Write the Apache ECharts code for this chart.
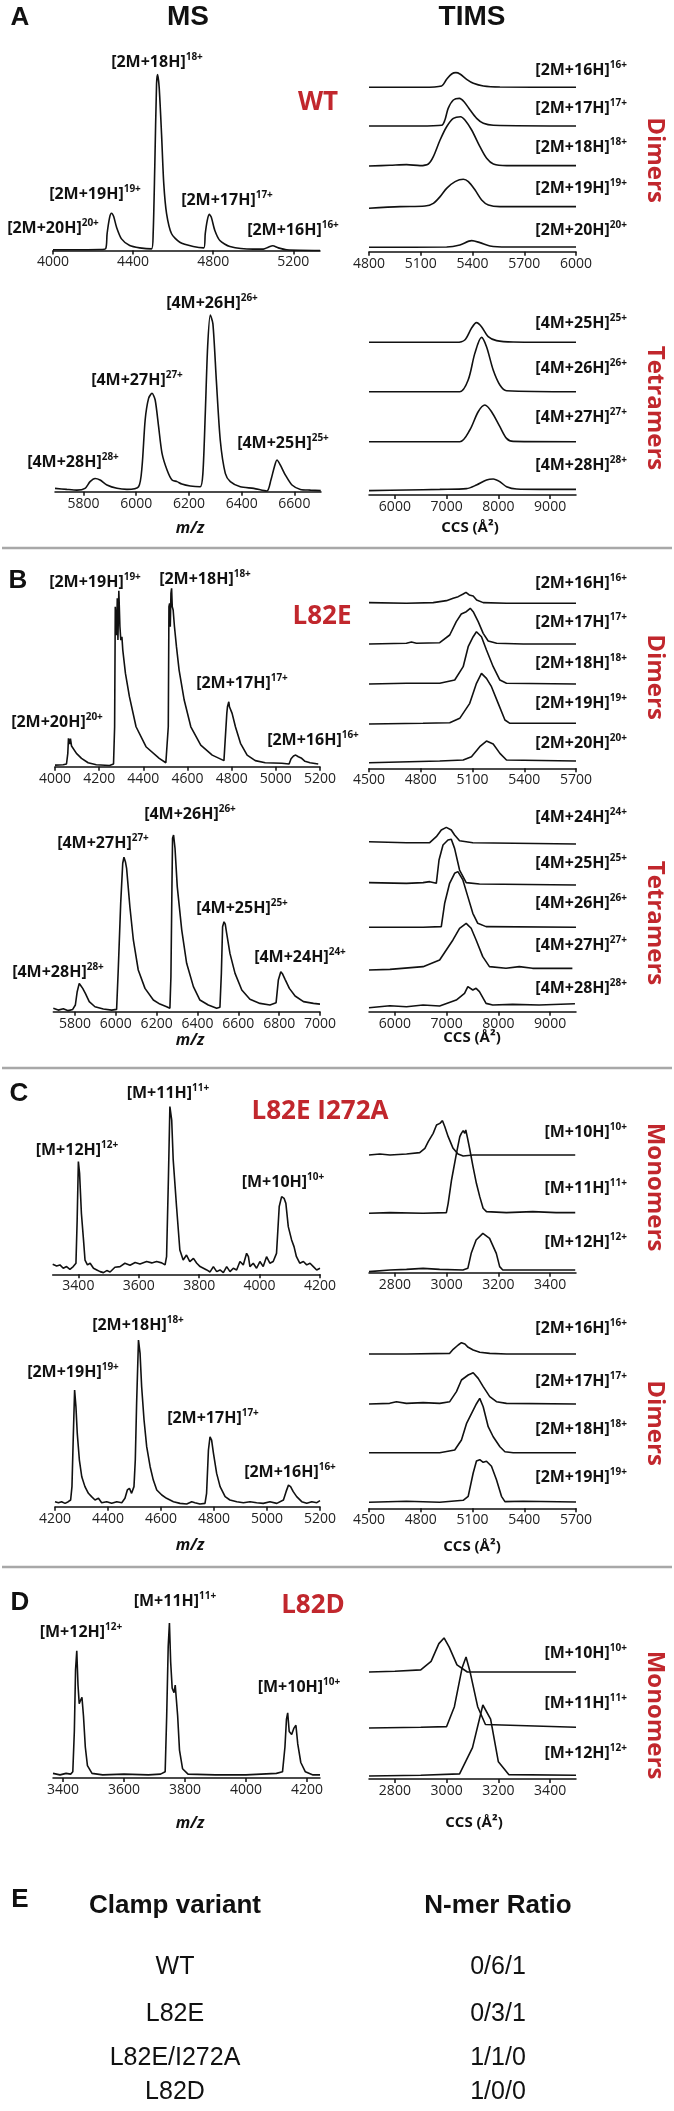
<!DOCTYPE html>
<html>
<head>
<meta charset="utf-8">
<script src="https://cdn.jsdelivr.net/npm/echarts@6/dist/echarts.min.js"></script>
<style>
html, body { margin: 0; padding: 0; background: #fff; }
#chart { width: 674px; height: 2111px; }
</style>
</head>
<body>
<div id="chart"></div>
<script>
// ---------- data: MS spectra [m/z, relative intensity] ----------
const msWtDimers = [[4000,0.4],[4233,0.6],[4263,1.1],[4270,9.5],[4283,19],[4292,21.2],[4303,19.3],[4317,13.3],[4342,6.6],[4383,2.8],[4433,1.5],[4492,0.9],[4500,9.5],[4508,47],[4517,94.7],[4522,100],[4530,92.8],[4542,66],[4553,38],[4567,21],[4592,9.5],[4633,4.7],[4700,2.3],[4753,1.5],[4760,9.5],[4770,17],[4780,20.5],[4790,19],[4808,11.4],[4833,5.7],[4883,2.3],[5000,0.8],[5050,0.8],[5075,1.9],[5097,2.7],[5125,1.5],[5167,0.4],[5333,0]];
const msWtTetramers = [[5692,1.9],[5737,1.3],[5775,0.9],[5806,1.9],[5825,5.7],[5844,7.5],[5863,6.6],[5889,3.8],[5927,1.9],[5965,1.3],[6009,2.8],[6022,14],[6034,40.6],[6047,52.8],[6060,55.7],[6072,51.9],[6085,36.8],[6098,21.7],[6117,12.3],[6136,6.6],[6155,5.7],[6173,4.3],[6205,3.2],[6243,2.8],[6253,10.4],[6262,44],[6271,82],[6281,100],[6291,95],[6304,63],[6319,29],[6338,10.4],[6357,5.7],[6395,2.8],[6446,1.9],[6496,0.4],[6511,6.6],[6524,14],[6534,17.9],[6547,15],[6566,9.4],[6591,3.8],[6623,1.3],[6661,0.9],[6700,0.6]];
const msL82eDimers = [[4000,0.9],[4037,1.1],[4052,1.5],[4058,7.5],[4061,15.9],[4064,16.8],[4067,12.7],[4070,15.7],[4075,11.6],[4082,10.8],[4097,7.5],[4120,4.7],[4150,2.2],[4187,1.1],[4247,0.7],[4265,1.5],[4270,22.4],[4273,89.7],[4276,90.7],[4279,73.8],[4282,94.4],[4285,71],[4289,98.7],[4294,78.5],[4298,71],[4303,72.9],[4307,65.4],[4319,52.3],[4337,39.3],[4367,22.4],[4412,11.2],[4472,4.7],[4502,2.2],[4508,1.9],[4513,22.4],[4516,89.7],[4519,91.6],[4522,78.5],[4525,97.2],[4528,100],[4531,89.7],[4535,87.9],[4541,78.5],[4550,67.3],[4562,54.2],[4585,37.4],[4615,22.4],[4660,12.1],[4712,6.5],[4765,3.4],[4774,2.8],[4778,29.9],[4781,33.6],[4784,34.6],[4787,36.4],[4790,33.6],[4795,34.6],[4802,29.9],[4817,22.4],[4840,13.1],[4870,6.5],[4907,3.4],[4952,2.2],[5027,1.9],[5060,1.5],[5069,4.5],[5080,6],[5090,6.5],[5102,5.6],[5117,4.7],[5132,3],[5155,2.2],[5192,1.5]];
const msL82eTetramers = [[5694,1.9],[5718,0.9],[5743,1.7],[5767,0.6],[5789,1.3],[5802,3.8],[5811,11.3],[5821,16],[5829,14.7],[5838,13.2],[5851,10.4],[5870,5.7],[5898,2.8],[5939,1.5],[5980,0.9],[6004,1.3],[6012,23.6],[6024,61.3],[6034,84],[6040,87.4],[6047,84.9],[6053,81.1],[6069,59.4],[6086,40.6],[6110,23.6],[6143,13.2],[6184,6.6],[6216,4.3],[6249,2.8],[6265,1.9],[6270,19.8],[6275,70.8],[6278,98.1],[6283,100],[6290,92.5],[6301,70.8],[6323,46.2],[6347,27.4],[6380,14.2],[6412,6.6],[6453,3.8],[6494,1.9],[6510,2.5],[6517,21.7],[6523,48.1],[6530,50.9],[6536,49.6],[6543,44.3],[6559,33],[6584,21.7],[6617,12.3],[6657,7],[6706,4.7],[6755,3.8],[6785,5.1],[6796,17.9],[6808,22.6],[6817,21.3],[6829,18.3],[6850,13.2],[6878,8.9],[6919,5.7],[6968,4.7],[7000,4.3]];
const msDoubleMonomers = [[3315,6],[3328,5],[3339,5.6],[3350,3.6],[3361,4.6],[3372,3],[3383,4.6],[3392,6.6],[3396,32.4],[3400,67.2],[3404,60.2],[3410,36.4],[3417,20.5],[3422,8.5],[3430,5.6],[3439,6.6],[3450,3.6],[3461,2.6],[3472,1.6],[3483,1],[3494,2.2],[3505,1.4],[3521,4.2],[3538,4.6],[3554,6.6],[3571,5.4],[3588,7],[3604,6.2],[3626,7.6],[3643,6.8],[3659,7.6],[3676,6.8],[3687,5.6],[3692,10.5],[3698,56.3],[3703,100],[3709,92],[3714,68.2],[3725,40.4],[3736,14.5],[3747,8.5],[3758,11.5],[3769,7.6],[3781,9.5],[3792,6.6],[3803,4.6],[3814,3.6],[3825,2.6],[3836,1.4],[3847,4.6],[3858,1.6],[3869,2.6],[3880,1],[3891,4.6],[3902,1.6],[3913,3.6],[3924,2.6],[3935,7.6],[3946,5.6],[3957,12.5],[3963,10.5],[3968,4.6],[3979,6.6],[3990,3.6],[4001,7.6],[4012,4.6],[4023,10.5],[4034,6.6],[4045,7.6],[4056,12.5],[4065,40.4],[4073,46.3],[4081,45.3],[4087,42.3],[4095,28.4],[4106,20.5],[4114,16.5],[4122,10.5],[4133,6.6],[4145,7.6],[4156,5.6],[4167,6.6],[4178,4.6],[4189,2.6],[4200,3.6]];
const msDoubleDimers = [[4200,3],[4213,2.4],[4225,3],[4238,2],[4250,3],[4259,4],[4264,12],[4269,41.8],[4274,69.7],[4279,59.8],[4284,43.8],[4292,27.9],[4301,17.9],[4313,12],[4326,8],[4338,6],[4351,4],[4364,5],[4376,2.4],[4395,3],[4414,2],[4433,3],[4452,2.4],[4464,5],[4473,10],[4481,11],[4489,8],[4498,12],[4503,27.9],[4508,61.8],[4515,99.6],[4521,91.6],[4527,71.7],[4536,51.8],[4546,35.9],[4559,23.9],[4571,15.9],[4584,10],[4603,7],[4621,5],[4647,3],[4672,2],[4697,1.6],[4716,3],[4728,2.4],[4747,1.6],[4766,2],[4772,8],[4779,33.9],[4785,41.8],[4791,39.8],[4798,31.9],[4810,19.9],[4823,12],[4842,6],[4860,4],[4886,3],[4911,2.4],[4936,3],[4961,2.4],[4986,2],[5011,3],[5037,2],[5062,4],[5072,9],[5081,12.9],[5089,12],[5099,9],[5112,6],[5131,3],[5150,2],[5169,3],[5188,2.4],[5200,3.6]];
const msL82dMonomers = [[3367,3],[3390,2],[3410,3],[3425,2.5],[3432,4],[3437,30],[3441,70],[3445,82],[3449,60],[3453,48],[3457,50],[3462,52],[3467,40],[3473,20],[3480,8],[3495,3],[3530,2],[3600,2.5],[3680,2],[3720,2.5],[3735,4],[3740,40],[3745,85],[3749,100],[3753,75],[3758,58],[3764,55],[3768,60],[3771,61],[3776,40],[3782,18],[3792,6],[3810,2.5],[3900,2],[4000,2],[4100,3],[4120,4],[4128,20],[4133,38],[4137,42],[4142,30],[4150,28],[4157,32],[4164,34],[4170,22],[4180,10],[4195,4],[4220,2],[4243,2]];

// ---------- data: TIMS traces [CCS, relative intensity] ----------
const timsWtD16 = [[4800,0],[5115,0],[5221,2.7],[5250,16.2],[5279,27],[5304,29.7],[5327,27],[5366,16.2],[5405,8.1],[5463,2.7],[5559,0.7],[6000,0]];
const timsWtD17 = [[4800,0],[5096,0],[5221,1.4],[5240,12.2],[5259,35.8],[5289,52.7],[5324,56],[5351,49.3],[5386,32.4],[5424,15.5],[5463,5.4],[5521,1.4],[6000,0]];
const timsWtD18 = [[4800,0],[4922,1.4],[5018,2.7],[5096,0.7],[5144,4],[5173,18.9],[5212,52.7],[5250,79.7],[5289,96.6],[5331,100],[5356,93.2],[5395,73],[5443,39.2],[5482,15.5],[5521,4],[5598,0.7],[6000,0.7]];
const timsWtD19 = [[4800,-2],[4980,1.4],[5125,2.7],[5173,8.1],[5212,21.6],[5250,38.5],[5299,52],[5347,56.8],[5376,52],[5415,35],[5453,14.9],[5492,4.7],[5559,1.4],[6000,1.4]];
const timsWtD20 = [[4800,0],[5250,0.7],[5327,4.7],[5395,13.5],[5443,9.5],[5501,2.7],[5598,0.7],[6000,0.7]];
const timsWtT25 = [[5500,0],[7190,0],[7351,4.3],[7480,25.8],[7577,36.2],[7674,28.8],[7803,10.4],[7965,3.1],[8287,0.6],[9500,0]];
const timsWtT26 = [[5500,0],[7255,0],[7416,21.5],[7545,70.6],[7674,100],[7771,82.8],[7900,39.9],[8029,12.3],[8158,1.8],[9500,0]];
const timsWtT27 = [[5500,0],[7255,0],[7448,21.5],[7610,55.2],[7739,67.5],[7868,55.2],[8029,27.6],[8158,6.1],[8287,0.6],[9500,0]];
const timsWtT28 = [[5500,-1.2],[6223,0],[6868,1.2],[7384,2.5],[7577,9.2],[7771,18.4],[7900,20.2],[8029,15.3],[8158,6.1],[8352,1.8],[8803,1.2],[9500,1.2]];

const timsL82eD16 = [[4500,1.3],[4717,0],[4872,1.3],[4949,5.1],[4988,9.6],[5017,12.7],[5046,17.8],[5062,21],[5081,15.9],[5104,14],[5124,6.4],[5162,1.3],[5297,0],[5700,0]];
const timsL82eD17 = [[4500,0],[4717,1.3],[4746,3.8],[4775,1.3],[4910,2.5],[4968,17.2],[5006,42.7],[5035,57.3],[5064,61.8],[5087,68.2],[5104,61.8],[5133,42.7],[5162,20.4],[5191,5.7],[5240,1.3],[5394,0],[5700,0]];
const timsL82eD18 = [[4500,0],[4717,1.3],[4910,1.3],[4997,7.6],[5046,33.1],[5075,71.3],[5104,90.4],[5123,100],[5152,90.4],[5181,64.9],[5220,33.1],[5259,7.6],[5297,1.3],[5700,0]];
const timsL82eD19 = [[4500,0],[4813,1.3],[4968,2.5],[5026,10.8],[5084,39.5],[5123,77.7],[5152,96.8],[5181,87.3],[5210,71.3],[5249,39.5],[5288,7.6],[5317,1.3],[5700,1.3]];
const timsL82eD20 = [[4500,-1.9],[4910,1.3],[5046,3.2],[5094,9.6],[5142,28.7],[5181,39.5],[5220,33.8],[5259,15.9],[5297,3.2],[5700,1.3]];
const timsL82eT24 = [[5500,1.8],[6224,0],[6673,0],[6801,10.8],[6897,22.8],[6994,27.5],[7090,22.8],[7154,13.8],[7250,3.6],[7506,0],[9500,-2.4]];
const timsL82eT25 = [[5500,2.4],[6224,1.2],[6545,2.4],[6673,4.2],[6801,1.2],[6853,43.1],[6930,70],[7026,79],[7090,80.2],[7154,64],[7250,25.1],[7378,2.4],[7634,0],[9500,-1.8]];
const timsL82eT26 = [[5500,0],[6545,0],[6897,1.2],[6962,43.1],[7058,79],[7154,97],[7218,100],[7314,85],[7410,55.1],[7506,25.1],[7602,7.2],[7762,1.2],[9500,0]];
const timsL82eT27 = [[5500,0],[5904,1.2],[6545,6],[6865,18],[7122,53.9],[7250,74.9],[7378,83.8],[7474,74.9],[7570,53.9],[7698,24],[7827,6],[8147,3],[8404,6],[8660,3],[9430,3]];
const timsL82eT28 = [[5500,-1.8],[5904,1.8],[6224,0],[6545,3],[6865,1.2],[7186,12],[7346,24],[7410,36],[7506,30],[7570,33],[7634,27],[7762,6],[7891,3],[8276,4.2],[8788,3],[9480,5.4]];

const timsDoubleM10 = [[2700,0],[2742,1.2],[2781,0],[2845,1.2],[2896,2.8],[2916,8],[2929,16],[2948,26],[2961,36],[2974,38],[2984,41.2],[2993,34],[3006,22],[3025,8],[3044,1.2],[3064,-1.2],[3102,0],[3231,0],[3359,0],[3497,0]];
const timsDoubleM11 = [[2700,0],[2781,0.8],[2909,0],[2999,0.8],[3006,12],[3019,40],[3038,72],[3051,92],[3057,96],[3064,99.2],[3070,96],[3074,100],[3081,90],[3090,76],[3096,78],[3102,56],[3115,36],[3128,20],[3141,6],[3154,2],[3231,0.8],[3333,2],[3423,0.8],[3497,0.8]];
const timsDoubleM12 = [[2700,-0.8],[2781,1.2],[2845,2],[2909,3.2],[2973,2],[3063,1.2],[3082,3.2],[3095,21.2],[3114,37.2],[3140,45.2],[3166,39.2],[3192,21.2],[3205,5.2],[3217,1.2],[3294,1.2],[3497,1.2]];
const timsDoubleD16 = [[4500,0],[4717,0],[4968,1.2],[4988,8.6],[5017,16.6],[5036,20.9],[5056,18.4],[5075,12.3],[5104,7.4],[5142,3.1],[5200,1.2],[5297,0],[5700,0]];
const timsDoubleD17 = [[4500,0],[4620,1.2],[4659,4.3],[4717,1.2],[4814,2.5],[4910,1.2],[4968,4.3],[5007,22.7],[5036,44.2],[5075,53.4],[5104,57.7],[5133,47.2],[5162,31.9],[5200,13.5],[5239,4.3],[5297,1.2],[5700,0]];
const timsDoubleD18 = [[4500,0],[4717,0],[4910,0],[4997,4.9],[5036,23.3],[5065,53.4],[5094,72],[5123,90.2],[5142,100],[5162,84.7],[5191,47.9],[5220,29.4],[5259,11],[5288,1.8],[5336,0],[5700,0]];
const timsDoubleD19 = [[4500,0],[4717,1.8],[4910,0],[5046,3.7],[5075,11],[5104,54],[5123,76],[5142,78.5],[5162,73.6],[5181,75.5],[5210,66.3],[5239,41.7],[5268,11],[5288,1.2],[5394,1.8],[5700,0.6]];

const timsL82dM10 = [[2700,0],[2800,1],[2900,3],[2940,15],[2970,40],[2990,48],[3010,35],[3040,10],[3080,0],[3500,0]];
const timsL82dM11 = [[2700,0],[2900,1],[3000,2],[3030,30],[3060,85],[3075,100],[3090,80],[3120,30],[3150,5],[3500,1]];
const timsL82dM12 = [[2700,0],[2900,1],[3050,3],[3100,40],[3140,100],[3170,80],[3200,20],[3240,2],[3500,1]];

// ---------- axis ticks ----------
const ticksWtDimersMz = [4000, 4400, 4800, 5200];
const ticksWtTetramersMz = [5800, 6000, 6200, 6400, 6600];
const ticksL82eDimersMz = [4000, 4200, 4400, 4600, 4800, 5000, 5200];
const ticksL82eTetramersMz = [5800, 6000, 6200, 6400, 6600, 6800, 7000];
const ticksMonomersMz = [3400, 3600, 3800, 4000, 4200];
const ticksDimersMz = [4200, 4400, 4600, 4800, 5000, 5200];
const ticksWtDimersCcs = [4800, 5100, 5400, 5700, 6000];
const ticksTetramersCcs = [6000, 7000, 8000, 9000];
const ticksDimersCcs = [4500, 4800, 5100, 5400, 5700];
const ticksMonomersCcs = [2800, 3000, 3200, 3400];

// ---------- chart ----------
const FONT = '"Open Sans", sans-serif';
const RED = '#c1272d';
const INK = '#111';
const option = { animation: false, grid: [], xAxis: [], yAxis: [], series: [], graphic: [] };

function addGrid(box, xMin, xMax, ticks) {
  const i = option.grid.length;
  option.grid.push({ left: box.left, top: box.top, width: box.width, height: box.height });
  option.xAxis.push({
    gridIndex: i, type: 'value', min: xMin, max: xMax, show: !!ticks,
    axisLine: { show: true, onZero: false, lineStyle: { color: INK, width: 1.5 } },
    axisTick: { show: true, customValues: ticks || [], length: 4, lineStyle: { color: INK, width: 1.5 } },
    axisLabel: {
      customValues: ticks || [], color: '#222', fontSize: 14, fontFamily: FONT, margin: 5,
      formatter: function (v) { return String(v); }
    },
    splitLine: { show: false }
  });
  option.yAxis.push({ gridIndex: i, type: 'value', min: 0, max: 100, show: false });
  return i;
}
function addLine(i, data, smooth) {
  option.series.push({
    type: 'line', xAxisIndex: i, yAxisIndex: i, data: data, symbol: 'none', showSymbol: false,
    smooth: smooth || false, clip: false, silent: true,
    lineStyle: { color: INK, width: 1.6 }
  });
}
// MS spectrum: axis at baseline y
function msPanel(data, left, right, base, h, xMin, xMax, ticks, smooth) {
  const i = addGrid({ left: left, top: base - h, width: right - left, height: h }, xMin, xMax, ticks);
  addLine(i, data, smooth);
}
// TIMS stack: one grid per trace, plus an axis strip
function timsPanel(traces, bases, h, axisY, xMin, xMax, ticks, smooth) {
  traces.forEach(function (t, k) {
    const i = addGrid({ left: 369, top: bases[k] - h, width: 207, height: h }, xMin, xMax, null);
    addLine(i, t, smooth);
  });
  addGrid({ left: 369, top: axisY - 10, width: 207, height: 10 }, xMin, xMax, ticks);
}

// panel A
msPanel(msWtDimers, 53, 320, 250.5, 176, 4000, 5333, ticksWtDimersMz, 0.25);
msPanel(msWtTetramers, 55, 321, 491.7, 176.7, 5692, 6701, ticksWtTetramersMz, 0.25);
timsPanel([timsWtD16, timsWtD17, timsWtD18, timsWtD19, timsWtD20], [87.3, 126, 166, 207.3, 247.3], 49.3, 251.7, 4800, 6000, ticksWtDimersCcs, 0.3);
timsPanel([timsWtT25, timsWtT26, timsWtT27, timsWtT28], [342.3, 391.7, 441.7, 490], 54.3, 495, 5500, 9500, ticksTetramersCcs, 0.3);
// panel B
msPanel(msL82eDimers, 55, 320, 766.7, 178.3, 4000, 5200, ticksL82eDimersMz);
msPanel(msL82eTetramers, 53.3, 320, 1011.7, 176.7, 5694, 7000, ticksL82eTetramersMz);
timsPanel([timsL82eD16, timsL82eD17, timsL82eD18, timsL82eD19, timsL82eD20], [603.3, 644, 684, 724, 761.7], 52.3, 768.3, 4500, 5700, ticksDimersCcs);
timsPanel([timsL82eT24, timsL82eT25, timsL82eT26, timsL82eT27, timsL82eT28], [842.7, 884, 927.3, 970, 1006.7], 55.7, 1011.7, 5500, 9500, ticksTetramersCcs);
// panel C
msPanel(msDoubleMonomers, 52.7, 320, 1274.3, 167.7, 3315, 4200, ticksMonomersMz);
msPanel(msDoubleDimers, 55, 320, 1506.7, 167.3, 4200, 5200, ticksDimersMz);
timsPanel([timsDoubleM10, timsDoubleM11, timsDoubleM12], [1155, 1213.3, 1271], 83.3, 1272.7, 2700, 3500, ticksMonomersCcs);
timsPanel([timsDoubleD16, timsDoubleD17, timsDoubleD18, timsDoubleD19], [1354, 1404, 1452.7, 1502.3], 54.3, 1508.3, 4500, 5700, ticksDimersCcs);
// panel D
msPanel(msL82dMonomers, 53, 320, 1778, 155, 3367, 4243, ticksMonomersMz);
timsPanel([timsL82dM10, timsL82dM11, timsL82dM12], [1672, 1728, 1776], 71, 1779, 2700, 3500, ticksMonomersCcs);

// ---------- text ----------
const G = option.graphic;
function ion(t, sup, x, y, align) {
  G.push({
    type: 'text', x: x, y: y, silent: true,
    style: {
      text: '{m|' + t + '}{s|' + sup + '}', textAlign: align || 'center', textVerticalAlign: 'middle',
      rich: {
        m: { fontSize: 16, fontWeight: 'bold', fontFamily: FONT, fill: INK, lineHeight: 20, verticalAlign: 'middle' },
        s: { fontSize: 10, fontWeight: 'bold', fontFamily: FONT, fill: INK, lineHeight: 12, verticalAlign: 'top' }
      }
    }
  });
}
function txt(t, x, y, size, color, opts) {
  opts = opts || {};
  G.push({
    type: 'text', x: x, y: y, rotation: opts.rot || 0, silent: true,
    style: {
      text: t, fill: color || INK, textAlign: opts.align || 'center', textVerticalAlign: 'middle',
      fontSize: size, fontWeight: opts.weight || 'bold', fontStyle: opts.style || 'normal',
      fontFamily: opts.family || FONT
    }
  });
}
function rule(y) {
  G.push({ type: 'line', silent: true, shape: { x1: 2, y1: y, x2: 672, y2: y }, style: { stroke: '#a8a8a8', lineWidth: 2.5 } });
}

// headers
const ARIAL = '"Liberation Sans", Arial';
txt('A', 20, 18, 26, INK, { family: ARIAL });
txt('MS', 188, 17, 28, INK, { family: ARIAL });
txt('TIMS', 472, 17, 28, INK, { family: ARIAL });
txt('B', 18, 581, 26, INK, { family: ARIAL });
txt('C', 19, 1094, 26, INK, { family: ARIAL });
txt('D', 20, 1603, 26, INK, { family: ARIAL });
txt('E', 20, 1900, 26, INK, { family: ARIAL });
rule(548); rule(1068); rule(1567);

// variants
txt('WT', 318, 103, 26, RED);
txt('L82E', 322, 617, 26, RED);
txt('L82E I272A', 320, 1112, 26, RED);
txt('L82D', 313, 1606, 26, RED);
// oligomer tags
[['Dimers', 160], ['Tetramers', 408], ['Dimers', 677], ['Tetramers', 923], ['Monomers', 1187], ['Dimers', 1423], ['Monomers', 1715]]
  .forEach(function (d) { txt(d[0], 655, d[1], 24, RED, { rot: -Math.PI / 2 }); });
// axis names
[528, 1040, 1545, 1823].forEach(function (y) { txt('m/z', 190, y, 16, INK, { style: 'italic' }); });
[[528, 470], [1038, 472], [1547, 472], [1823, 474]].forEach(function (d) { txt('CCS (Å²)', d[1], d[0], 15, INK); });

// peak labels (MS)
[['[2M+18H]','18+',157,62],['[2M+19H]','19+',95,194],['[2M+17H]','17+',227,200],['[2M+20H]','20+',53,228],['[2M+16H]','16+',293,230],
 ['[4M+26H]','26+',212,303],['[4M+27H]','27+',137,380],['[4M+25H]','25+',283,443],['[4M+28H]','28+',73,462],
 ['[2M+19H]','19+',95,582],['[2M+18H]','18+',205,579],['[2M+17H]','17+',242,683],['[2M+20H]','20+',57,722],['[2M+16H]','16+',313,740],
 ['[4M+26H]','26+',190,814],['[4M+27H]','27+',103,843],['[4M+25H]','25+',242,908],['[4M+24H]','24+',300,957],['[4M+28H]','28+',58,972],
 ['[M+11H]','11+',168,1093],['[M+12H]','12+',77,1150],['[M+10H]','10+',283,1182],
 ['[2M+18H]','18+',138,1325],['[2M+19H]','19+',73,1372],['[2M+17H]','17+',213,1418],['[2M+16H]','16+',290,1472],
 ['[M+12H]','12+',81,1632],['[M+11H]','11+',175,1601],['[M+10H]','10+',299,1687]
].forEach(function (d) { ion(d[0], d[1], d[2], d[3]); });
// trace labels (TIMS), right aligned
[['[2M+16H]','16+',70],['[2M+17H]','17+',108],['[2M+18H]','18+',147],['[2M+19H]','19+',188],['[2M+20H]','20+',230],
 ['[4M+25H]','25+',323],['[4M+26H]','26+',368],['[4M+27H]','27+',417],['[4M+28H]','28+',465],
 ['[2M+16H]','16+',583],['[2M+17H]','17+',622],['[2M+18H]','18+',663],['[2M+19H]','19+',703],['[2M+20H]','20+',743],
 ['[4M+24H]','24+',817],['[4M+25H]','25+',863],['[4M+26H]','26+',903],['[4M+27H]','27+',945],['[4M+28H]','28+',988],
 ['[M+10H]','10+',1132],['[M+11H]','11+',1188],['[M+12H]','12+',1242],
 ['[2M+16H]','16+',1328],['[2M+17H]','17+',1381],['[2M+18H]','18+',1429],['[2M+19H]','19+',1477],
 ['[M+10H]','10+',1653],['[M+11H]','11+',1703],['[M+12H]','12+',1753]
].forEach(function (d) { ion(d[0], d[1], 627, d[2], 'right'); });

// panel E table
const variants = ['WT', 'L82E', 'L82E/I272A', 'L82D'];
const ratios = ['0/6/1', '0/3/1', '1/1/0', '1/0/0'];
const rowY = [1967, 2014, 2058, 2092];
txt('Clamp variant', 175, 1906, 26, INK, { family: ARIAL });
txt('N-mer Ratio', 498, 1906, 26, INK, { family: ARIAL });
variants.forEach(function (v, k) {
  txt(v, 175, rowY[k], 25, INK, { family: ARIAL, weight: 'normal' });
  txt(ratios[k], 498, rowY[k], 25, INK, { family: ARIAL, weight: 'normal' });
});

const chart = echarts.init(document.getElementById('chart'), null, { renderer: 'canvas' });
chart.setOption(option);
</script>
</body>
</html>
